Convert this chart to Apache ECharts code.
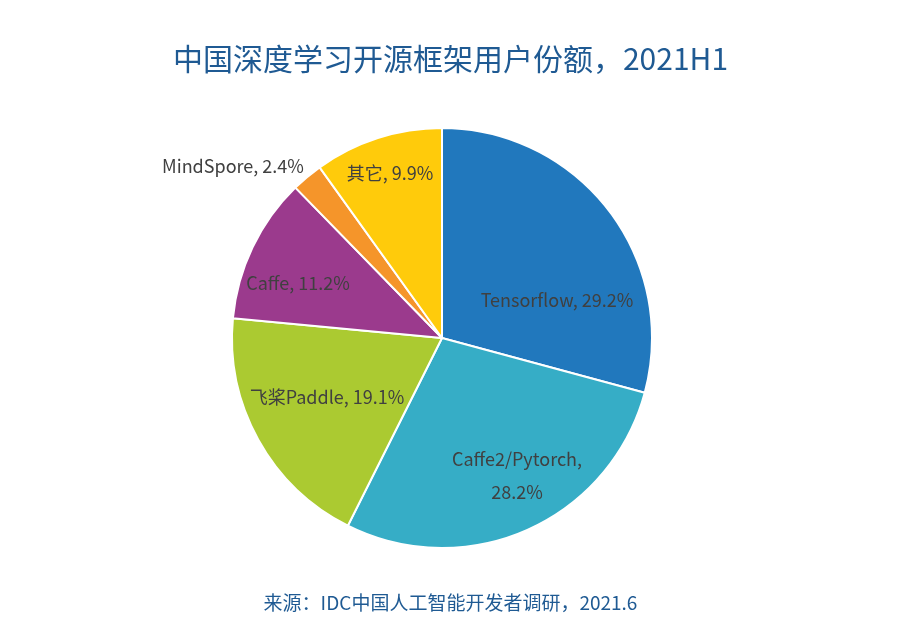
<!DOCTYPE html>
<html>
<head>
<meta charset="utf-8">
<script src="https://cdn.jsdelivr.net/npm/echarts@6/dist/echarts.min.js"></script>
<style>
html,body{margin:0;padding:0;background:#fff;}
#c{width:901px;height:623px;}
</style>
</head>
<body>
<div id="c"></div>
<script>
const titleText = '中国深度学习开源框架用户份额，2021H1';
const sourceText = '来源：IDC中国人工智能开发者调研，2021.6';
const categories = ['Tensorflow', 'Caffe2/Pytorch', '飞桨Paddle', 'Caffe', 'MindSpore', '其它'];
const values = [29.2, 28.2, 19.1, 11.2, 2.4, 9.9];
const colors = ['#2178BD', '#36ADC6', '#ABCA31', '#9B3A8D', '#F5952A', '#FFCB0B'];
const labelTexts = ['Tensorflow, 29.2%', 'Caffe2/Pytorch,\n28.2%', '飞桨Paddle, 19.1%', 'Caffe, 11.2%', 'MindSpore, 2.4%', '其它, 9.9%'];
// label anchor positions (layout)
const labelPos = [[557, 300], [517, 476], [327, 397], [298, 283], [233, 166], [390, 173]];

const chart = echarts.init(document.getElementById('c'));
const FONT = '"Noto Sans CJK SC", "Noto Sans", sans-serif';
chart.setOption({
  animation: false,
  textStyle: { fontFamily: FONT },
  title: [
    { text: titleText, left: 'center', top: 39, textStyle: { fontFamily: FONT, fontSize: 30, fontWeight: 'normal', color: '#1F5A93' } },
    { text: sourceText, left: 'center', top: 588, textStyle: { fontFamily: FONT, fontSize: 19, fontWeight: 'normal', color: '#1F5A93' } }
  ],
  series: [{
    type: 'pie',
    center: [442, 338],
    radius: [0, 210],
    startAngle: 90,
    clockwise: true,
    avoidLabelOverlap: false,
    itemStyle: { borderColor: '#fff', borderWidth: 2 },
    label: {
      show: true,
      position: 'inside',
      color: '#404040',
      fontFamily: FONT,
      fontSize: 18,
      lineHeight: 33,
      formatter: p => labelTexts[p.dataIndex]
    },
    labelLine: { show: false },
    labelLayout: p => ({ x: labelPos[p.dataIndex][0], y: labelPos[p.dataIndex][1], align: 'center', verticalAlign: 'middle' }),
    data: categories.map((c, i) => ({ name: c, value: values[i], itemStyle: { color: colors[i] } }))
  }]
});
</script>
</body>
</html>
